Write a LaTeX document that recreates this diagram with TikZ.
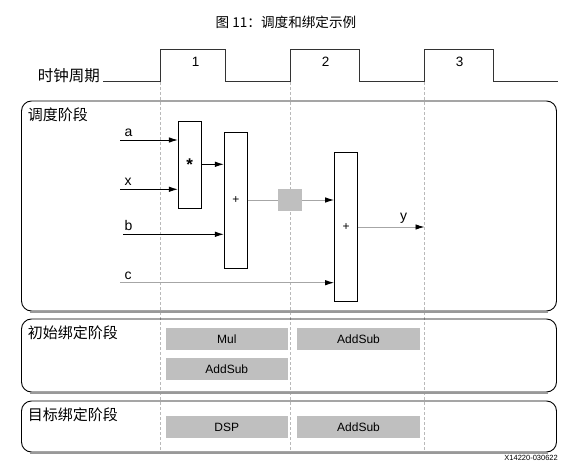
\documentclass[tikz,border=0pt]{standalone}
\usepackage{fontspec}
\setmainfont{Liberation Sans}
\newfontfamily\cjk{Noto Sans CJK SC}
\usepackage{tikz}
\usetikzlibrary{arrows.meta}
\usetikzlibrary{calc}

\begin{document}
\begin{tikzpicture}[x=1pt,y=-1pt,>={Latex[length=9pt,width=5.5pt]},
        block/.style={rectangle,draw=black,fill=white,line width=0.8pt,inner sep=0pt,minimum width=23pt},
        stage/.style={rectangle,rounded corners=10pt,draw=black,line width=0.9pt,inner sep=0pt,minimum width=535pt},
        unit/.style={rectangle,fill=gray!50,inner sep=0pt,minimum width=122.5pt,minimum height=22pt,font=\fontsize{12}{14}\selectfont},
        phase/.style={anchor=west,inner sep=0pt,font=\cjk\fontsize{15}{17}\selectfont},
        sig/.style={anchor=base west,inner sep=0pt,font=\fontsize{14}{16}\selectfont},
        gline/.style={draw=gray!70,line width=0.9pt},
        garrow/.style={draw=gray!70,line width=0.9pt,-{Latex[length=9pt,width=5.5pt,color=black]}},
        guide/.style={gray!55,line width=0.5pt,dash pattern=on 3pt off 2pt},
        every node/.style={font=\small}]
        \useasboundingbox (0,0) rectangle (583,465);

        % title and clock
        \node (t) at (286,22) {\cjk\fontsize{13.6}{15}\selectfont 图 11：调度和绑定示例};
        \node[anchor=east,inner sep=0pt] (clk) at (100,76) {\cjk\fontsize{15.5}{17}\selectfont 时钟周期};
        \draw[black!80,line width=0.9pt] (103,81.5) -- (160.7,81.5) |- (225,49) |- (290.7,81.5)
          |- (359,49) |- (424.5,81.5) |- (493,49) |- (558,81.5);
        \foreach \x/\n in {160.7/1,290.7/2,424.5/3} {
          \draw[guide] (\x,82) -- (\x,452);
          \node[font=\fontsize{13.5}{15}\selectfont] (n\n) at (\x+35,62) {\n};
        }

        % the three stages
        \node[stage,minimum height=210pt] (s1) at (289,206) {};
        \node[stage,minimum height=73pt]  (s2) at (289,355.5) {};
        \node[stage,minimum height=51pt]  (s3) at (289,426.5) {};
        \foreach \s in {s1,s2,s3}
          \draw[gray!80,line width=1.6pt] ([xshift=9pt,yshift=-0.8pt]\s.south west) -- ([xshift=-9pt,yshift=-0.8pt]\s.south east);
        \node[phase] (p1) at ([xshift=6.5pt,yshift=-14pt]s1.north west) {调度阶段};
        \node[phase] (p2) at ([xshift=6.5pt,yshift=-14pt]s2.north west) {初始绑定阶段};
        \node[phase] (p3) at ([xshift=6.5pt,yshift=-14pt]s3.north west) {目标绑定阶段};

        % schedule
        \node[block,minimum height=87pt,font=\fontsize{17}{19}\selectfont\bfseries] (mul) at (189.8,165) {*};
        \node[block,minimum height=136pt,font=\fontsize{12}{14}\selectfont] (add1) at (235.8,200.3) {+};
        \node[block,minimum height=149pt,font=\fontsize{12}{14}\selectfont] (add2) at (346,227) {+};
        \node[fill=gray!50,inner sep=0pt,minimum width=24pt,minimum height=22pt] (r) at (290,200) {};
        \coordinate (a) at (120,140);
        \coordinate (x) at (120,189.3);
        \coordinate (b) at (123,234.3);
        \coordinate (c) at (120,282.7);
        \coordinate (y) at (424.5,227);
        \node[sig] (la) at (124.5,136.5) {a};
        \node[sig] (lx) at (124.5,185.8) {x};
        \node[sig] (lb) at (124.5,230.8) {b};
        \node[sig] (lc) at (124.5,279.2) {c};
        \node[sig] (ly) at (400,220.5) {y};
        \draw[->,line width=0.9pt] (a) -- (a -| mul.west);
        \draw[->,line width=0.9pt] (x) -- (x -| mul.west);
        \draw[->,line width=0.9pt] (b) -- (b -| add1.west);
        \draw[->,line width=0.9pt] (mul.east |- 0,164.3) -- (add1.west |- 0,164.3);
        \draw[garrow] (c) -- (c -| add2.west);
        \draw[gline] (add1.east |- r.west) -- (r.west);
        \draw[garrow] (r.east) -- (r.east -| add2.west);
        \draw[garrow] (add2.east) -- (y);

        % binding
        \node[unit] (u1) at (226.8,339) {Mul};
        \node[unit] (u2) [below of=u1,node distance=30.3pt] {AddSub};
        \node[unit] (u3) [right of=u1,node distance=131.7pt] {AddSub};
        \node[unit] (u4) at (226.8,427.3) {DSP};
        \node[unit] (u5) [right of=u4,node distance=131.7pt] {AddSub};

        \node[anchor=east,inner sep=0pt,font=\fontsize{7.5}{8}\selectfont] (id) at (558,457.7) {X14220-030622};
      \end{tikzpicture}
\end{document}
